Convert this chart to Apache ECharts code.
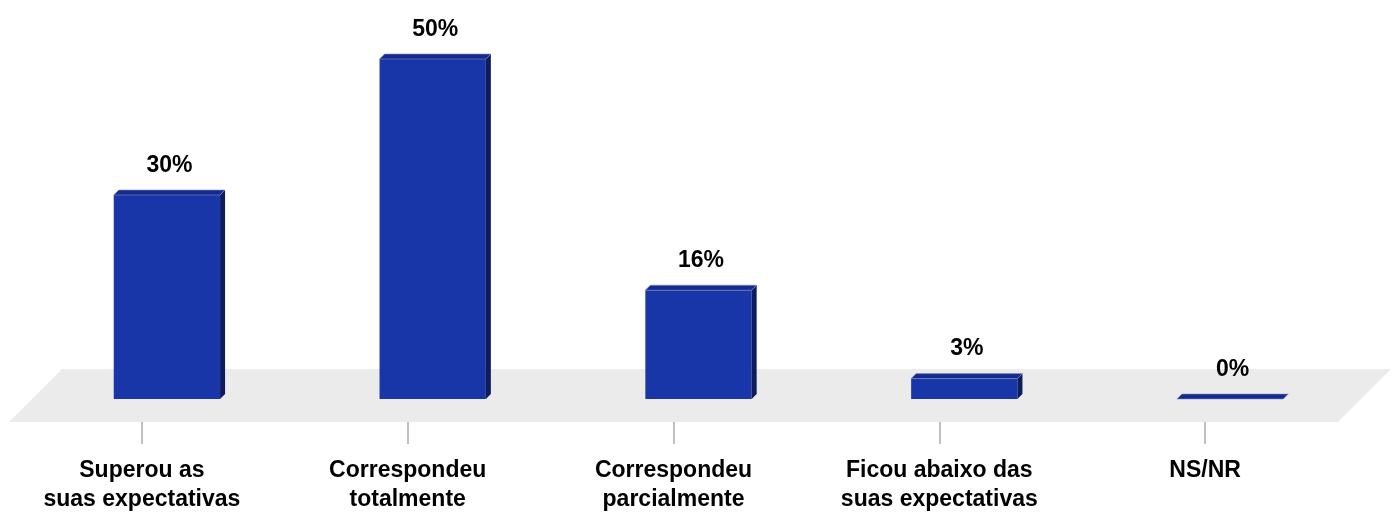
<!DOCTYPE html>
<html>
<head>
<meta charset="utf-8">
<script src="https://cdn.jsdelivr.net/npm/echarts@6/dist/echarts.min.js"></script>
<style>
  html, body { margin: 0; padding: 0; background: #fff; }
  #chart { width: 1394px; height: 516px; }
</style>
</head>
<body>
<div id="chart"></div>
<script>
const categories = ['Superou as\nsuas expectativas', 'Correspondeu\ntotalmente', 'Correspondeu\nparcialmente', 'Ficou abaixo das\nsuas expectativas', 'NS/NR'];
const values = [30, 50, 16, 3, 0];

// depth of the floor and position of bars inside it (px, 45 degree projection)
const FLOOR_DEPTH = 53;
const BAR_DEPTH = 23;
const BAR_SHIFT = 2;
const BAR_THICK = 5;

const chart = echarts.init(document.getElementById('chart'));

function renderFloor(params, api) {
  const cs = params.coordSys;
  const x0 = cs.x, x1 = cs.x + cs.width, y0 = cs.y + cs.height;
  const d = FLOOR_DEPTH;
  return {
    type: 'polygon',
    silent: true,
    shape: { points: [[x0, y0], [x1, y0], [x1 + d, y0 - d], [x0 + d, y0 - d]] },
    style: { fill: '#ebebeb' }
  };
}

function renderBar(params, api) {
  const idx = api.value(0);
  const base = api.coord([idx, 0]);
  const top = api.coord([idx, api.value(1)]);
  const w = api.size([1, 0])[0] * 0.4;
  const d = BAR_DEPTH, t = BAR_THICK;
  const l = base[0] - w / 2 + d + BAR_SHIFT, r = base[0] + w / 2 + d + BAR_SHIFT;
  const yb = base[1] - d, yt = top[1] - d;
  const children = [];
  if (yb - yt > 0.5) {
    children.push({
      type: 'rect',
      shape: { x: l, y: yt, width: r - l, height: yb - yt },
      style: { fill: '#1936a9' }
    });
  }
  children.push({
    type: 'polygon',
    shape: { points: [[r, yt], [r + t, yt - t], [r + t, yb - t], [r, yb]] },
    style: { fill: '#0f1c5c' }
  });
  children.push({
    type: 'polygon',
    shape: { points: [[l, yt], [r, yt], [r + t, yt - t], [l + t, yt - t]] },
    style: { fill: '#142a8c', stroke: '#7f8fc8', lineWidth: 0.6 }
  });
  children.push({
    type: 'text',
    style: {
      text: api.value(1) + '%',
      x: (l + r) / 2 + t / 2,
      y: yt - t - 13,
      align: 'center',
      verticalAlign: 'bottom',
      fill: '#000',
      font: 'bold 23px "Liberation Sans", Arial, sans-serif'
    }
  });
  return { type: 'group', children: children };
}

chart.setOption({
  animation: false,
  grid: { left: 9, right: 56, top: 14, bottom: 94 },
  xAxis: {
    type: 'category',
    data: categories,
    axisLine: { show: false },
    axisTick: { show: true, alignWithLabel: true, length: 22, lineStyle: { color: '#c0c0c0', width: 2 } },
    axisLabel: {
      interval: 0,
      margin: 34,
      lineHeight: 29,
      color: '#000',
      fontWeight: 'bold',
      fontSize: 23,
      fontFamily: '"Liberation Sans", Arial, sans-serif'
    }
  },
  yAxis: {
    type: 'value',
    min: 0,
    max: 60,
    show: false,
    splitLine: { show: false }
  },
  series: [
    {
      type: 'custom',
      renderItem: renderFloor,
      data: [0],
      z: 1,
      silent: true
    },
    {
      type: 'custom',
      renderItem: renderBar,
      encode: { x: 0, y: 1 },
      data: values.map((v, i) => [i, v]),
      z: 2
    }
  ]
});
</script>
</body>
</html>
